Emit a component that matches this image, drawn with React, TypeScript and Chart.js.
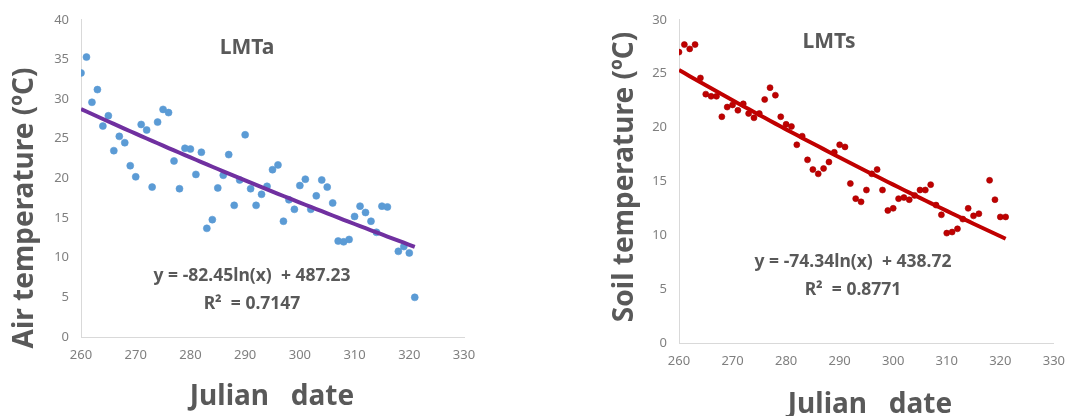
import React, { useEffect, useRef } from "react";
import { Chart, registerables } from "chart.js";

Chart.register(...registerables);

// ---------- data ----------
const airDays = [260, 261, 262, 263, 264, 265, 266, 267, 268, 269, 270, 271, 272, 273, 274, 275, 276, 277, 278, 279, 280, 281, 282, 283, 284, 285, 286, 287, 288, 289, 290, 291, 292, 293, 294, 295, 296, 297, 298, 299, 300, 301, 302, 303, 304, 305, 306, 307, 308, 309, 310, 311, 312, 313, 314, 315, 316, 318, 319, 320, 321];
const airTemps = [33.3, 35.3, 29.6, 31.2, 26.6, 27.9, 23.5, 25.3, 24.5, 21.6, 20.2, 26.8, 26.1, 18.9, 27.1, 28.7, 28.3, 22.2, 18.7, 23.8, 23.7, 20.5, 23.3, 13.7, 14.8, 18.8, 20.4, 23.0, 16.6, 19.8, 25.5, 18.7, 16.6, 18.0, 19.0, 21.1, 21.7, 14.6, 17.3, 16.1, 19.1, 19.9, 16.1, 17.8, 19.8, 18.9, 16.9, 12.1, 12.0, 12.3, 15.2, 16.5, 15.7, 14.6, 13.2, 16.5, 16.4, 10.8, 11.4, 10.6, 5.0];

const soilDays = [260, 261, 262, 263, 264, 265, 266, 267, 268, 269, 270, 271, 272, 273, 274, 275, 276, 277, 278, 279, 280, 281, 282, 283, 284, 285, 286, 287, 288, 289, 290, 291, 292, 293, 294, 295, 296, 297, 298, 299, 300, 301, 302, 303, 304, 305, 306, 307, 308, 309, 310, 311, 312, 313, 314, 315, 316, 318, 319, 320, 321];
const soilTemps = [27.0, 27.7, 27.3, 27.7, 24.6, 23.1, 22.9, 22.9, 21.0, 21.9, 22.1, 21.6, 22.2, 21.3, 20.9, 21.3, 22.6, 23.7, 23.0, 21.0, 20.3, 20.1, 18.4, 19.2, 17.0, 16.1, 15.7, 16.2, 16.8, 17.7, 18.4, 18.2, 14.8, 13.4, 13.1, 14.2, 15.7, 16.1, 14.2, 12.3, 12.5, 13.4, 13.5, 13.3, 13.7, 14.2, 14.2, 14.7, 12.8, 11.9, 10.2, 10.3, 10.6, 11.5, 12.5, 11.8, 12.0, 15.1, 13.3, 11.7, 11.7];

// trendline coefficients shown in the chart: y = a ln(x) + b
const airTrend = { a: -82.45, b: 487.23 };
const soilTrend = { a: -74.34, b: 438.72 };

const xTicksMin = 260;
const xTicksMax = 330;
const xStep = 10;
const airYMax = 40;
const soilYMax = 30;
const yStep = 5;

const airLabels = {
  title: "LMTa",
  eq: "y = -82.45ln(x)  + 487.23",
  r2: "R\u00B2  = 0.7147",
  yTitle: "Air temperature (\u00BAC)",
  xTitle: "Julian   date",
};
const soilLabels = {
  title: "LMTs",
  eq: "y = -74.34ln(x)  + 438.72",
  r2: "R\u00B2  = 0.8771",
  yTitle: "Soil temperature (\u00BAC)",
  xTitle: "Julian   date",
};

const FONT = "'Noto Sans', 'DejaVu Sans', sans-serif";
const TEXT = "#595959";

type TextItem = { text: string; x: number; y: number; size: number; rotate?: boolean };

const textPlugin = {
  id: "textPlugin",
  afterDraw(chart: any, _args: any, opts: any) {
    const items: TextItem[] = opts.items || [];
    const ctx = chart.ctx;
    ctx.save();
    ctx.fillStyle = TEXT;
    ctx.textAlign = "center";
    ctx.textBaseline = "alphabetic";
    for (const it of items) {
      ctx.font = `bold ${it.size}px ${FONT}`;
      if (it.rotate) {
        ctx.save();
        ctx.translate(it.x, it.y);
        ctx.rotate(-Math.PI / 2);
        ctx.fillText(it.text, 0, 0);
        ctx.restore();
      } else {
        ctx.fillText(it.text, it.x, it.y);
      }
    }
    ctx.restore();
  },
};

function makeConfig(p: {
  days: number[];
  temps: number[];
  trend: { a: number; b: number };
  yMax: number;
  dotColor: string;
  dotBorder: string;
  dotRadius: number;
  lineColor: string;
  yWidth: number;
  xHeight: number;
  padTop: number;
  padRight: number;
  texts: TextItem[];
}) {
  const pts = p.days.map((d, i) => ({ x: d, y: p.temps[i] }));
  const trendPts = p.days.map((d) => ({ x: d, y: p.trend.a * Math.log(d) + p.trend.b }));
  return {
    type: "scatter",
    data: {
      datasets: [
        {
          data: trendPts,
          showLine: true,
          borderColor: p.lineColor,
          borderWidth: 4,
          pointRadius: 0,
          fill: false,
          order: 0,
        },
        {
          data: pts,
          backgroundColor: p.dotColor,
          borderColor: p.dotBorder,
          borderWidth: 0.6,
          pointRadius: p.dotRadius,
          order: 1,
        },
      ],
    },
    options: {
      responsive: false,
      animation: false,
      events: [],
      layout: { padding: { left: 0, top: p.padTop, right: p.padRight, bottom: 0 } },
      plugins: {
        legend: { display: false },
        tooltip: { enabled: false },
        textPlugin: { items: p.texts },
      },
      scales: {
        x: {
          type: "linear",
          min: xTicksMin,
          max: xTicksMax,
          ticks: { stepSize: xStep, color: "#7f7f7f", padding: 10, font: { family: FONT, size: 13 } },
          grid: { display: true, color: "transparent", drawTicks: false },
          border: { display: true, color: "#d9d9d9", width: 1 },
          afterFit: (s: any) => {
            s.height = p.xHeight;
          },
        },
        y: {
          type: "linear",
          min: 0,
          max: p.yMax,
          ticks: { stepSize: yStep, color: "#7f7f7f", padding: 12, font: { family: FONT, size: 13 } },
          grid: { display: true, color: "transparent", drawTicks: false },
          border: { display: true, color: "#d9d9d9", width: 1 },
          afterFit: (s: any) => {
            s.width = p.yWidth;
          },
        },
      },
    },
    plugins: [textPlugin],
  };
}

function Panel({ left, width, config }: { left: number; width: number; config: any }) {
  const ref = useRef<HTMLCanvasElement>(null);
  useEffect(() => {
    if (!ref.current) return;
    const c = new Chart(ref.current, config);
    return () => c.destroy();
  }, [config]);
  return (
    <canvas
      ref={ref}
      width={width}
      height={416}
      style={{ position: "absolute", left, top: 0, width, height: 416 }}
    />
  );
}

const leftConfig = makeConfig({
  days: airDays,
  temps: airTemps,
  trend: airTrend,
  yMax: airYMax,
  dotColor: "#5B9BD5",
  dotBorder: "#5B9BD5",
  dotRadius: 3.5,
  lineColor: "#7030A0",
  yWidth: 81,
  xHeight: 79,
  padTop: 19,
  padRight: 56,
  texts: [
    { text: airLabels.title, x: 247, y: 54, size: 21 },
    { text: airLabels.eq, x: 252, y: 281, size: 17.5 },
    { text: airLabels.r2, x: 252, y: 309, size: 17.5 },
    { text: airLabels.xTitle, x: 272, y: 405, size: 28 },
    { text: airLabels.yTitle, x: 33, y: 208, size: 28, rotate: true },
  ],
});

const rightConfig = makeConfig({
  days: soilDays,
  temps: soilTemps,
  trend: soilTrend,
  yMax: soilYMax,
  dotColor: "#C00000",
  dotBorder: "#A00000",
  dotRadius: 3,
  lineColor: "#C00000",
  yWidth: 119,
  xHeight: 73,
  padTop: 12,
  padRight: 13,
  texts: [
    { text: soilLabels.title, x: 269, y: 48, size: 21 },
    { text: soilLabels.eq, x: 293, y: 267, size: 17.5 },
    { text: soilLabels.r2, x: 293, y: 295, size: 17.5 },
    { text: soilLabels.xTitle, x: 310, y: 413, size: 28 },
    { text: soilLabels.yTitle, x: 73, y: 177, size: 28, rotate: true },
  ],
});

export default function App() {
  return (
    <div
      style={{
        position: "fixed",
        left: 0,
        top: 0,
        width: 1075,
        height: 416,
        background: "#ffffff",
        overflow: "hidden",
      }}
    >
      <Panel left={0} width={520} config={leftConfig} />
      <Panel left={560} width={515} config={rightConfig} />
    </div>
  );
}
